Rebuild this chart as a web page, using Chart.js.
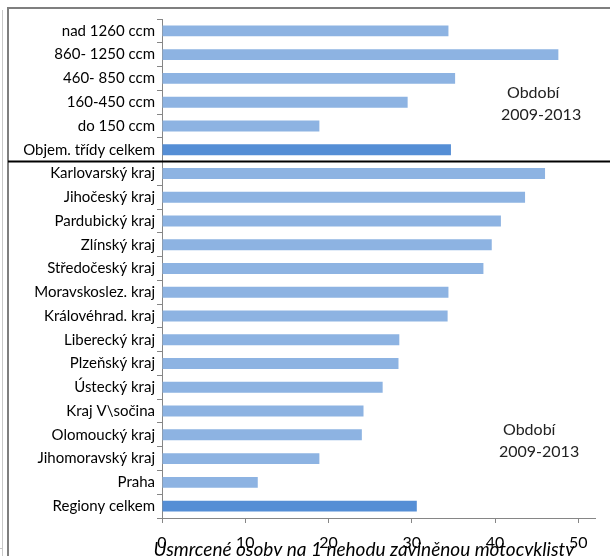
<!DOCTYPE html>
<html>
<head>
<meta charset="utf-8">
<script src="https://cdn.jsdelivr.net/npm/chart.js@4/dist/chart.umd.min.js"></script>
<style>
  html, body { margin: 0; padding: 0; background: #fff; }
  #wrap { position: relative; width: 610px; height: 556px; }
</style>
</head>
<body>
<div id="wrap"><canvas id="chart" width="610" height="556"></canvas></div>
<script>
// kategorie (shora dolů)
const categories = [
  "nad 1260 ccm", "860- 1250 ccm", "460- 850 ccm", "160-450 ccm", "do 150 ccm",
  "Objem. třídy celkem",
  "Karlovarský kraj", "Jihočeský kraj", "Pardubický kraj", "Zlínský kraj",
  "Středočeský kraj", "Moravskoslez. kraj", "Královéhrad. kraj", "Liberecký kraj",
  "Plzeňský kraj", "Ústecký kraj", "Kraj V\\sočina", "Olomoucký kraj",
  "Jihomoravský kraj", "Praha", "Regiony celkem",
];

// usmrcené osoby na 1 nehodu
const values = [
  34.4, 47.6, 35.2, 29.5, 18.9,
  34.7,
  46.0, 43.6, 40.7, 39.6,
  38.6, 34.4, 34.3, 28.5,
  28.4, 26.5, 24.2, 24.0,
  18.9, 11.5, 30.6,
];

const totalRows = ["Objem. třídy celkem", "Regiony celkem"];
const xTicks = [0, 10, 20, 30, 40, 50];
const xMax = 52;
const periodLabel = ["Období", "2009-2013"];
const axisTitle = "Usmrcené osoby na 1 nehodu zaviněnou motocyklisty";

const LIGHT = "#8db3e2";
const DARK = "#558ed5";
const FONT = "Lato, 'Open Sans', sans-serif";

const decorPlugin = {
  id: "decor",
  beforeDraw(chart) {
    const ctx = chart.ctx;
    ctx.save();
    // rámeček
    ctx.strokeStyle = "#c8c8c8";
    ctx.lineWidth = 1;
    ctx.beginPath();
    ctx.moveTo(2.5, 10); ctx.lineTo(2.5, 556);
    ctx.moveTo(0, 548.5); ctx.lineTo(3, 548.5);
    ctx.stroke();
    ctx.strokeStyle = "#7f7f7f";
    ctx.lineWidth = 2;
    ctx.beginPath();
    ctx.moveTo(8, 8); ctx.lineTo(610, 8);
    ctx.moveTo(8, 7); ctx.lineTo(8, 556);
    ctx.stroke();
    ctx.restore();
  },
  afterDraw(chart) {
    const ctx = chart.ctx;
    const y = chart.scales.y;
    ctx.save();
    // dělicí čára mezi objemovými třídami a kraji
    const sepY = (y.getPixelForValue(5) + y.getPixelForValue(6)) / 2;
    ctx.strokeStyle = "#000";
    ctx.lineWidth = 2;
    ctx.beginPath();
    ctx.moveTo(8, sepY); ctx.lineTo(610, sepY);
    ctx.stroke();

    // popisky období
    ctx.fillStyle = "#222";
    ctx.font = "16px " + FONT;
    ctx.textBaseline = "middle";
    ctx.textAlign = "left";
    ctx.fillText(periodLabel[0], 507, 93);
    ctx.fillText(periodLabel[1], 501, 115);
    ctx.fillText(periodLabel[0], 503, 430);
    ctx.fillText(periodLabel[1], 499, 452);

    // název osy x (přes popisky, oříznutý dole)
    ctx.font = "italic 19px " + FONT;
    ctx.textAlign = "center";
    ctx.fillStyle = "#000";
    ctx.fillText(axisTitle, 364, 550);
    ctx.restore();
  },
};

new Chart(document.getElementById("chart"), {
  type: "bar",
  data: {
    labels: categories,
    datasets: [{
      data: values,
      backgroundColor: categories.map((c) => totalRows.includes(c) ? DARK : LIGHT),
      borderWidth: 0,
      barPercentage: 0.92,
      categoryPercentage: 0.5,
    }],
  },
  options: {
    indexAxis: "y",
    responsive: false,
    animation: false,
    layout: { padding: { top: 19, left: 0, right: 15, bottom: 0 } },
    plugins: {
      legend: { display: false },
      tooltip: { enabled: false },
    },
    scales: {
      x: {
        min: 0,
        max: xMax,
        afterBuildTicks(scale) {
          scale.ticks = xTicks.map((v) => ({ value: v }));
        },
        afterFit(scale) { scale.height = 38; },
        border: { display: true, color: "#868686", width: 1 },
        grid: { drawOnChartArea: false, drawTicks: true, tickLength: 5, color: "#868686" },
        ticks: {
          font: { family: FONT, size: 16 },
          color: "#000",
          padding: 10,
          maxRotation: 0,
        },
      },
      y: {
        afterFit(scale) { scale.width = 162; },
        border: { display: true, color: "#868686", width: 1 },
        grid: { drawOnChartArea: false, drawTicks: true, tickLength: 5, color: "#868686", offset: true },
        ticks: {
          font: { family: FONT, size: 15 },
          color: "#000",
          padding: 2,
          autoSkip: false,
        },
      },
    },
  },
  plugins: [decorPlugin],
});
</script>
</body>
</html>
